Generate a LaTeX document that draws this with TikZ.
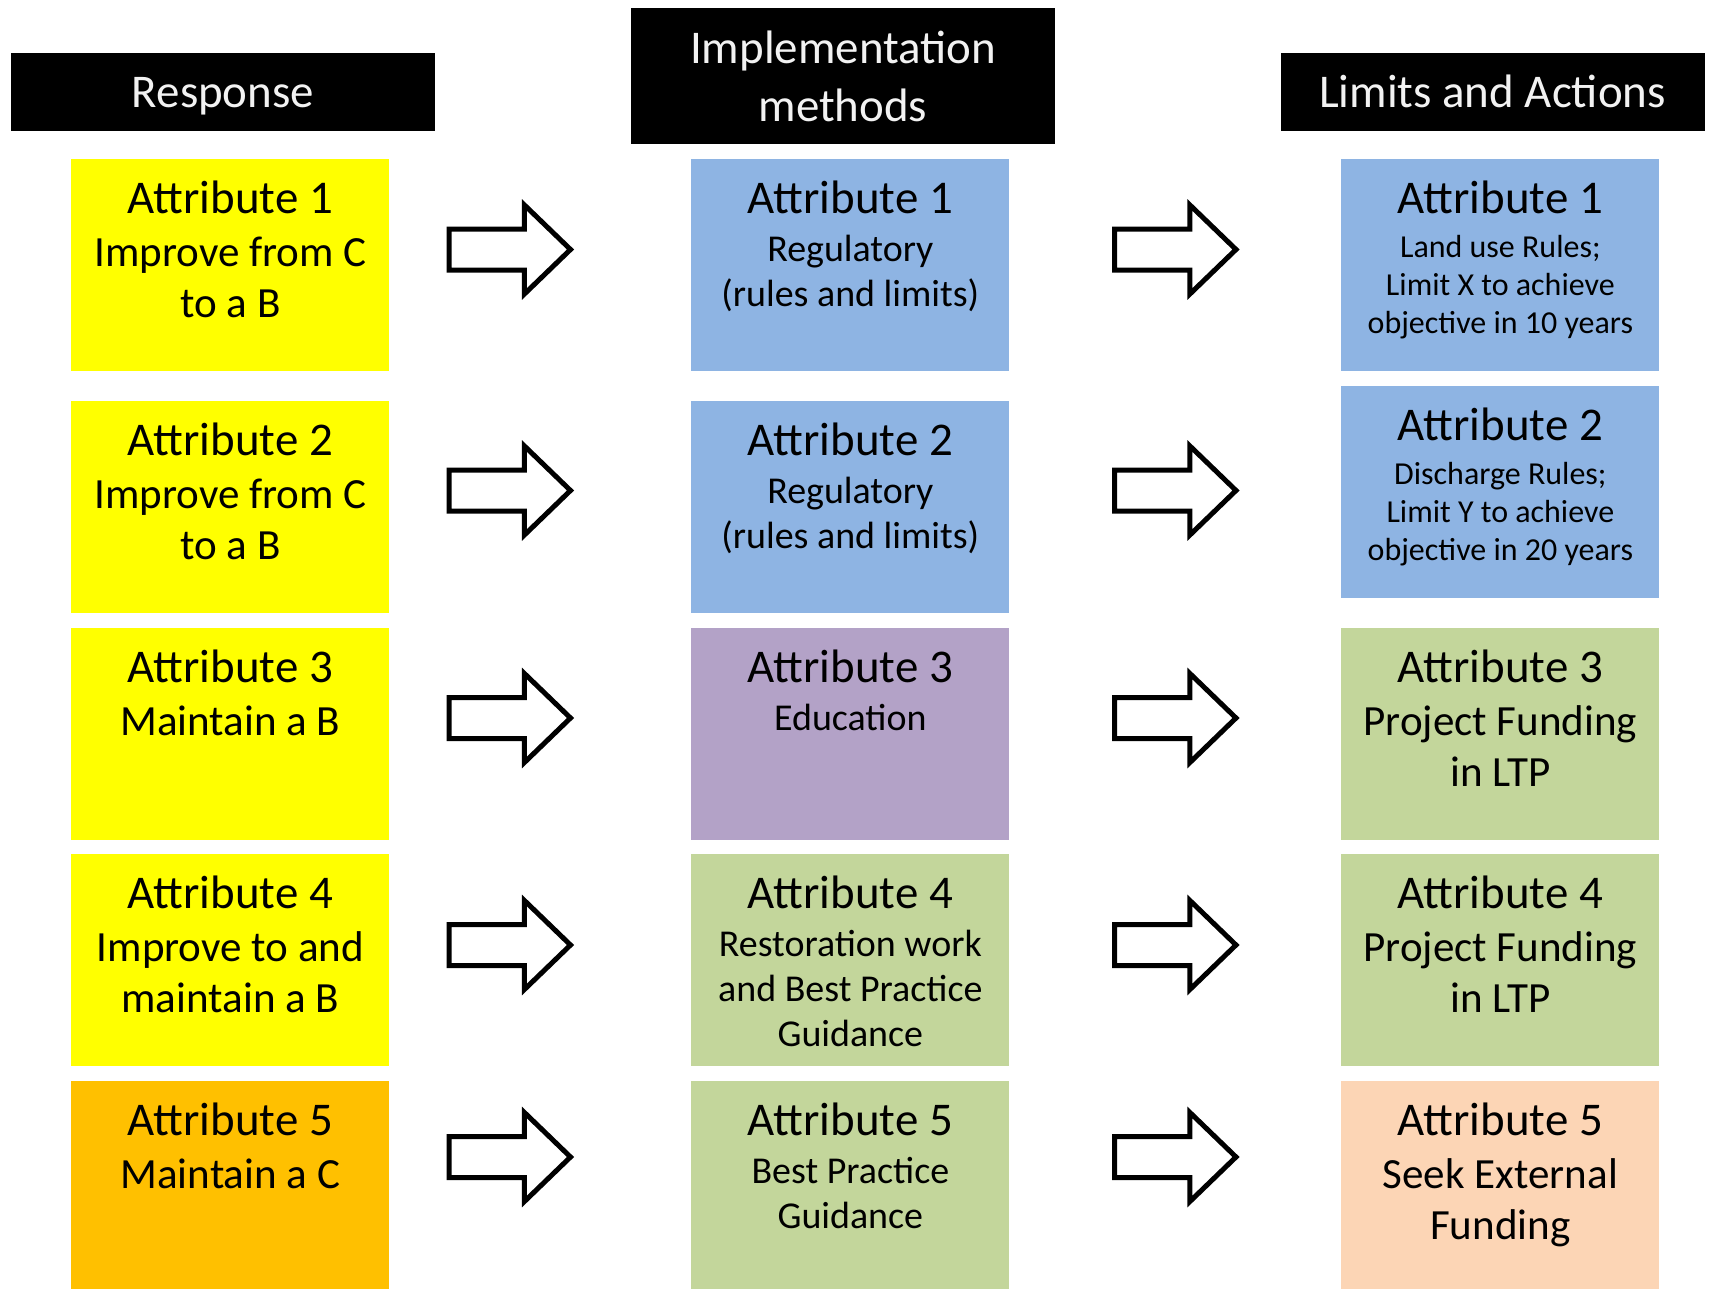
\documentclass[tikz,border=0pt]{standalone}
\usepackage{fontspec}
\setmainfont{Carlito}
\usetikzlibrary{shapes.arrows, positioning}

\definecolor{cellyellow}{HTML}{FFFF00}
\definecolor{cellorange}{HTML}{FFC000}
\definecolor{cellblue}{HTML}{8EB4E3}
\definecolor{cellpurple}{HTML}{B3A2C7}
\definecolor{cellgreen}{HTML}{C3D69B}
\definecolor{cellpeach}{HTML}{FCD5B5}

\newlength{\cellw}
\setlength{\cellw}{6.36cm}
\newcommand{\tgap}{0.04cm}
\newcommand{\attrcell}[2]{\parbox[t]{\cellw}{\centering{\fontsize{26.7}{32}\selectfont #1}\\[\tgap]#2}}

\begin{document}
\begin{tikzpicture}

\tikzset{
    headbox/.style={fill=black, text=white!95!black, inner sep=0pt, minimum width=8.48cm, minimum height=1.56cm, font=\fontsize{26.7}{32.5}\selectfont, text height=0.64cm, text depth=0cm},
    cellbox/.style={inner sep=0pt, anchor=north west, minimum width=\cellw, text height=1.08cm, text depth=3.16cm},
    bigtext/.style={font=\fontsize{24.5}{29}\selectfont},
    midtext/.style={font=\fontsize{21.6}{25.6}\selectfont\def\tgap{0.07cm}},
    smalltext/.style={font=\fontsize{18.2}{21.6}\selectfont\def\tgap{0.12cm}},
    blockarrow/.style={single arrow, draw=black, fill=white, line width=0.1cm, inner sep=0pt, text height=0.36cm, text depth=0.36cm, minimum height=2.43cm, single arrow head extend=0.48cm, single arrow tip angle=88, anchor=tail}
}

\useasboundingbox (0,0) rectangle (34.22,-25.78);

% column heads
\node [headbox] (resp) at (4.46,-1.84) {Response};
\node [headbox, minimum height=2.72cm, text height=0.6cm, text depth=1.08cm] (impl) at (16.86,-1.52) {\parbox[t]{8.48cm}{\centering Implementation\\methods}};
\node [headbox] (limit) at (29.85,-1.84) {Limits and Actions};

% response
\node [cellbox, bigtext, fill=cellyellow] (resp1) at (1.42,-3.18) {\attrcell{Attribute 1}{Improve from C\\to a B}};
\node [cellbox, bigtext, fill=cellyellow] (resp2) at (1.42,-8.02) {\attrcell{Attribute 2}{Improve from C\\to a B}};
\node [cellbox, bigtext, fill=cellyellow] (resp3) at (1.42,-12.56) {\attrcell{Attribute 3}{Maintain a B}};
\node [cellbox, bigtext, fill=cellyellow] (resp4) at (1.42,-17.08) {\attrcell{Attribute 4}{Improve to and\\maintain a B}};
\node [cellbox, bigtext, fill=cellorange] (resp5) at (1.42,-21.62) {\attrcell{Attribute 5}{Maintain a C}};

% implementation methods
\node [cellbox, midtext, fill=cellblue] (meth1) at (13.82,-3.18) {\attrcell{Attribute 1}{Regulatory\\(rules and limits)}};
\node [cellbox, midtext, fill=cellblue] (meth2) at (13.82,-8.02) {\attrcell{Attribute 2}{Regulatory\\(rules and limits)}};
\node [cellbox, midtext, fill=cellpurple] (meth3) at (13.82,-12.56) {\attrcell{Attribute 3}{Education}};
\node [cellbox, midtext, fill=cellgreen] (meth4) at (13.82,-17.08) {\attrcell{Attribute 4}{Restoration work\\and Best Practice\\Guidance}};
\node [cellbox, midtext, fill=cellgreen] (meth5) at (13.82,-21.62) {\attrcell{Attribute 5}{Best Practice\\Guidance}};

% limits and actions
\node [cellbox, smalltext, fill=cellblue] (act1) at (26.82,-3.18) {\attrcell{Attribute 1}{Land use Rules;\\Limit X to achieve\\objective in 10 years}};
\node [cellbox, smalltext, fill=cellblue] (act2) at (26.82,-7.72) {\attrcell{Attribute 2}{Discharge Rules;\\Limit Y to achieve\\objective in 20 years}};
\node [cellbox, bigtext, fill=cellgreen] (act3) at (26.82,-12.56) {\attrcell{Attribute 3}{Project Funding\\in LTP}};
\node [cellbox, bigtext, fill=cellgreen] (act4) at (26.82,-17.08) {\attrcell{Attribute 4}{Project Funding\\in LTP}};
\node [cellbox, bigtext, fill=cellpeach] (act5) at (26.82,-21.62) {\attrcell{Attribute 5}{Seek External\\Funding}};

% block arrows
\node [blockarrow] (rarr1) at (8.93,-4.99) {};
\node [blockarrow] (rarr2) at (8.93,-9.81) {};
\node [blockarrow] (rarr3) at (8.93,-14.36) {};
\node [blockarrow] (rarr4) at (8.93,-18.90) {};
\node [blockarrow] (rarr5) at (8.93,-23.14) {};
\node [blockarrow] (marr1) at (22.24,-4.99) {};
\node [blockarrow] (marr2) at (22.24,-9.81) {};
\node [blockarrow] (marr3) at (22.24,-14.36) {};
\node [blockarrow] (marr4) at (22.24,-18.90) {};
\node [blockarrow] (marr5) at (22.24,-23.14) {};

\end{tikzpicture}
\end{document}
